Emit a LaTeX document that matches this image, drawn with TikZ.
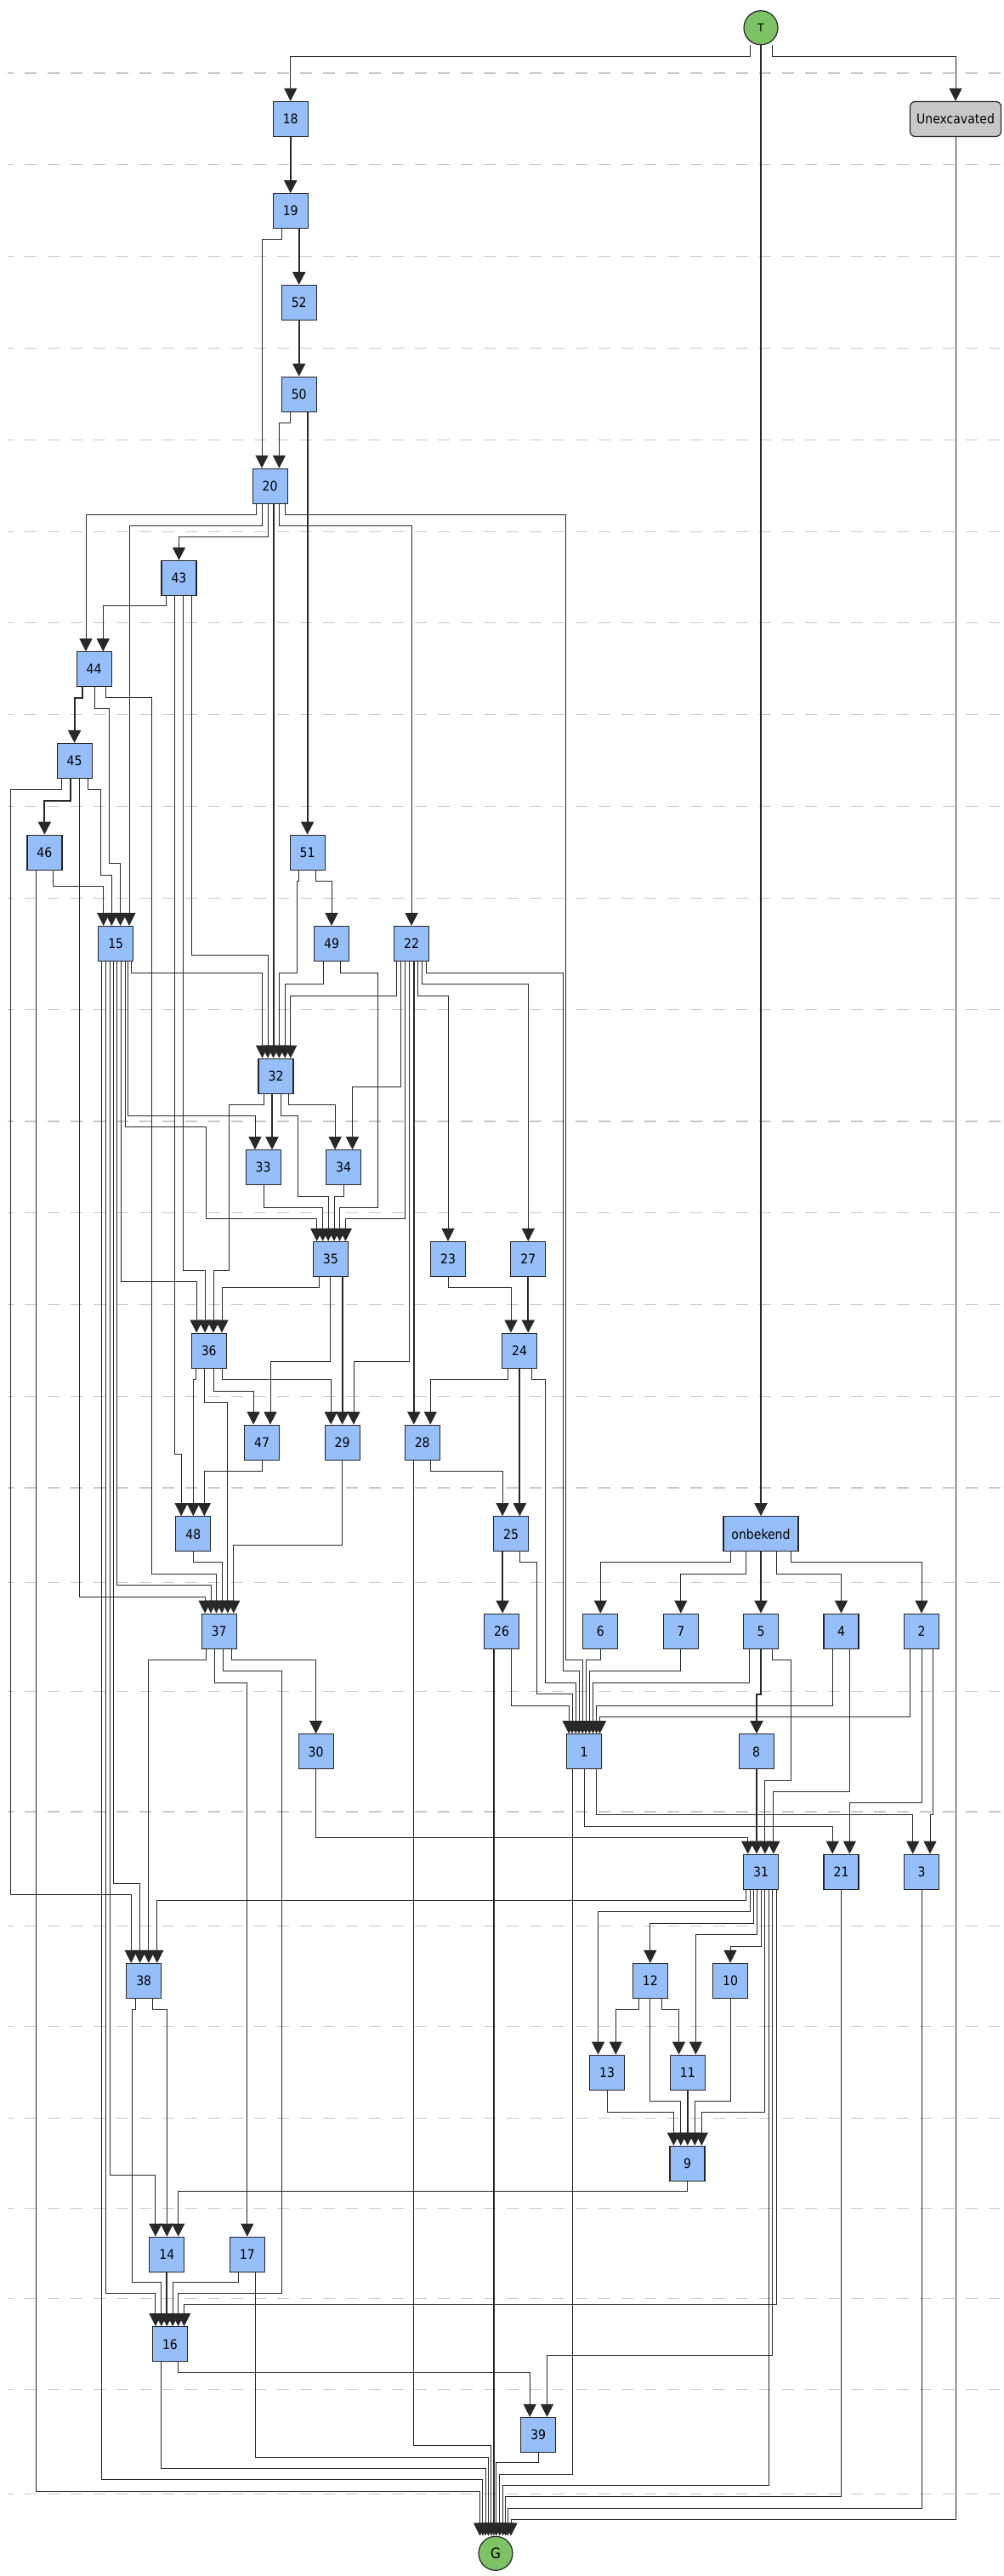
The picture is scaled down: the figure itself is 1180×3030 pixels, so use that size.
\documentclass[tikz,border=0pt]{standalone}
\usepackage{fontspec}
\setmainfont{DejaVu Sans Condensed}
\usetikzlibrary{arrows.meta,shapes.geometric}
\definecolor{boxblue}{RGB}{150,190,248}
\definecolor{tgreen}{RGB}{125,194,100}
\definecolor{ungray}{RGB}{200,200,200}
\definecolor{dashgray}{RGB}{200,200,200}
\definecolor{edgecol}{RGB}{40,40,40}
\newcommand\ed[5]{\draw[edge] (#1.south -| #2,0) #5 -| (#3.north -| #4,0);}
\newcommand\eb[5]{\draw[edge,line width=1pt] (#1.south -| #2,0) #5 -| (#3.north -| #4,0);}
\begin{document}
\begin{tikzpicture}[x=0.5pt,y=-0.5pt,
  box/.style={draw=black!85,fill=boxblue,line width=0.6pt,minimum width=20.5pt,minimum height=20.5pt,inner sep=0pt,font=\fontsize{7.8}{9}\selectfont},
  wbox/.style={box,minimum width=44pt},
  ubox/.style={box,fill=ungray,rounded corners=3pt,minimum width=53.5pt},
  term/.style={circle,draw=black!85,fill=tgreen,line width=0.6pt,minimum size=20pt,inner sep=0pt},
  edge/.style={draw=edgecol,line width=0.5pt,-{Triangle[width=7.5pt,length=7.5pt]}},
  rowline/.style={draw=dashgray,line width=0.7pt,dash pattern=on 6.7pt off 6.8pt,dash phase=3.35pt}]
\useasboundingbox[fill=white] (0,0) rectangle (1180,3030);
\foreach \yy in {86,193.7,301.7,409.3,517.3,625.3,732.7,840.7,948.7,1056.7,1187.7,1319,1426.7,1534.7,1642.7,1750,1861.3,1989.3,2131,2265.7,2383.7,2491.3,2597.7,2703.7,2810.3,2933.3}
  \draw[rowline] (9,\yy) -- (1180,\yy);
% nodes
\node[term,font=\fontsize{6.5}{8}\selectfont] (T) at (895,32.7) {T};
\node[box] (n18) at (341.7,140) {18};
\node[ubox] (U) at (1124,140) {Unexcavated};
\node[box] (n19) at (341.7,248.3) {19};
\node[box] (n52) at (351.7,356) {52};
\node[box] (n50) at (351.7,463.7) {50};
\node[box] (n20) at (317.6,571.7) {20};
\node[box] (n43) at (210.5,680) {43};
\node[box] (n44) at (110.6,787.3) {44};
\node[box] (n45) at (87.6,895) {45};
\node[box] (n46) at (52.4,1002.7) {46};
\node[box] (n51) at (361.6,1002.7) {51};
\node[box] (n15) at (136.2,1110) {15};
\node[box] (n49) at (390,1110) {49};
\node[box] (n22) at (484.1,1110) {22};
\node[box] (n32) at (324.5,1265.7) {32};
\node[box] (n33) at (309.6,1373.3) {33};
\node[box] (n34) at (404.1,1373.3) {34};
\node[box] (n35) at (388.8,1481) {35};
\node[box] (n23) at (527,1481) {23};
\node[box] (n27) at (621.3,1481) {27};
\node[box] (n36) at (245.7,1588.7) {36};
\node[box] (n24) at (611,1588.7) {24};
\node[box] (n47) at (308,1696.7) {47};
\node[box] (n29) at (402.6,1696.7) {29};
\node[box] (n28) at (496.7,1696.7) {28};
\node[box] (n48) at (227.3,1804.3) {48};
\node[box] (n25) at (601,1804.3) {25};
\node[wbox] (onb) at (895,1804.3) {onbekend};
\node[box] (n37) at (257.6,1918.7) {37};
\node[box] (n26) at (590,1918.7) {26};
\node[box] (n6) at (706.3,1918.7) {6};
\node[box] (n7) at (800.8,1918.7) {7};
\node[box] (n5) at (895,1918.7) {5};
\node[box] (n4) at (989.5,1918.7) {4};
\node[box] (n2) at (1084,1918.7) {2};
\node[box] (n30) at (371.6,2060.3) {30};
\node[box] (n1) at (687.2,2060.3) {1};
\node[box] (n8) at (889.6,2060.3) {8};
\node[box] (n31) at (895,2201.7) {31};
\node[box] (n21) at (989.5,2201.7) {21};
\node[box] (n3) at (1084,2201.7) {3};
\node[box] (n38) at (169.2,2330) {38};
\node[box] (n12) at (764.8,2330) {12};
\node[box] (n10) at (859,2330) {10};
\node[box] (n13) at (714,2437.7) {13};
\node[box] (n11) at (808.9,2437.7) {11};
\node[box] (n9) at (808.5,2544.7) {9};
\node[box] (n14) at (196.3,2651.7) {14};
\node[box] (n17) at (290.8,2651.7) {17};
\node[box] (n16) at (200,2757.3) {16};
\node[box] (n39) at (633.2,2864) {39};
\node[term,font=\fontsize{8.5}{10}\selectfont] (G) at (583,3003.3) {G};
% edges
\ed{T}{882}{n18}{341.7}{|- (341.7,66)}
\ed{T}{908.4}{U}{1124}{|- (1124,66)}
\eb{T}{895}{onb}{895}{}
\eb{n18}{341.7}{n19}{341.7}{}
\eb{n19}{351.7}{n52}{351.7}{}
\ed{n19}{331.8}{n20}{308}{|- (308,281.7)}
\eb{n52}{351.7}{n50}{351.7}{}
\ed{n50}{341.7}{n20}{328.4}{|- (328.4,497)}
\eb{n50}{361.6}{n51}{361.6}{}
\ed{U}{1124}{G}{601}{|- (601,2963.3)}
% 20
\ed{n20}{301.6}{n44}{101}{|- (101,605)}
\ed{n20}{308}{n15}{152}{|- (152,618.3)}
\ed{n20}{315}{n43}{210.5}{|- (210.5,631.7)}
\eb{n20}{321.5}{n32}{321.5}{}
\ed{n20}{328.4}{n22}{484.1}{|- (484.1,618.3)}
\ed{n20}{335.2}{n1}{685.2}{|- (665.3,605) |- (685.2,1952.7)}
% 43
\ed{n43}{195.2}{n44}{121.3}{|- (121.3,712.3)}
\ed{n43}{205.9}{n48}{213.2}{|- (213.2,1710)}
\ed{n43}{215.5}{n36}{241.1}{|- (241.1,1494.3)}
\ed{n43}{225.4}{n32}{315}{|- (315,1123.7)}
% 44
\eb{n44}{97.2}{n45}{87.6}{|- (87.6,820.7)}
\ed{n44}{111}{n15}{141.6}{|- (128.6,833.7) |- (141.6,1015.7)}
\ed{n44}{124.4}{n37}{254.5}{|- (178.3,820.7) |- (254.5,1851)}
% 45
\ed{n45}{72.7}{n38}{154.2}{|- (12.6,928.3) |- (154.2,2228.7)}
\eb{n45}{83}{n46}{52.4}{|- (52.4,941.7)}
\ed{n45}{93}{n37}{241.1}{|- (241.1,1878.3)}
\ed{n45}{103}{n15}{131.3}{|- (118.3,928.3) |- (131.3,1029.3)}
% 46
\ed{n46}{42.1}{G}{564.5}{|- (564.5,2930)}
\ed{n46}{62.8}{n15}{121.7}{|- (121.7,1042.7)}
% 15
\ed{n15}{119.8}{G}{567.9}{|- (567.9,2916.7)}
\ed{n15}{124.4}{n16}{182.9}{|- (182.9,2697.3)}
\ed{n15}{129}{n14}{182.9}{|- (182.9,2558)}
\ed{n15}{133.6}{n38}{164.6}{|- (164.6,2215)}
\ed{n15}{137.8}{n37}{248}{|- (248,1864.7)}
\ed{n15}{142.4}{n36}{231.1}{|- (231.1,1507.7)}
\ed{n15}{147.3}{n35}{372.7}{|- (242.2,1325.7) |- (372.7,1433.3)}
\ed{n15}{150.5}{n33}{300}{|- (300,1312.7)}
\ed{n15}{154.2}{n32}{308.5}{|- (308.5,1144)}
% 51, 49
\ed{n51}{351.7}{n32}{328.4}{|- (349.4,1036) |- (328.4,1144)}
\ed{n51}{371.6}{n49}{390}{|- (390,1036)}
\ed{n49}{380}{n32}{335.2}{|- (335.2,1157.7)}
\ed{n49}{400}{n35}{399.5}{|- (444.7,1144) |- (399.5,1420.3)}
% 22
\ed{n22}{466.1}{n32}{341.8}{|- (341.8,1171)}
\ed{n22}{471.1}{n34}{414.5}{|- (414.5,1278.3)}
\ed{n22}{476.5}{n35}{406.4}{|- (406.4,1433.3)}
\ed{n22}{481.4}{n29}{416}{|- (416,1601.7)}
\eb{n22}{486.8}{n28}{486.8}{}
\ed{n22}{491.8}{n23}{527}{|- (527,1171)}
\ed{n22}{496.7}{n27}{621.3}{|- (621.3,1157.7)}
\ed{n22}{501.7}{n1}{681}{|- (662.3,1144) |- (681,1965.7)}
% 32, 33, 34
\ed{n32}{310}{n36}{251}{|- (269.4,1299) |- (251,1494.3)}
\eb{n32}{320}{n33}{320}{}
\ed{n32}{330.6}{n35}{386.1}{|- (350.5,1312.7) |- (386.1,1407)}
\ed{n32}{339.8}{n34}{394.2}{|- (394.2,1299)}
\ed{n33}{310}{n35}{379.6}{|- (379.6,1420.3)}
\ed{n34}{404.1}{n35}{393}{|- (393,1407)}
% 35, 23, 27
\ed{n35}{375.8}{n36}{261}{|- (261,1514.3)}
\ed{n35}{388.8}{n47}{318}{|- (318,1601.7)}
\eb{n35}{402.6}{n29}{402.6}{}
\ed{n23}{527}{n24}{601}{|- (601,1514.3)}
\eb{n27}{621.3}{n24}{621.3}{}
% 24
\ed{n24}{597.6}{n28}{506.3}{|- (506.3,1622.3)}
\eb{n24}{611.8}{n25}{611.4}{}
\ed{n24}{625.2}{n1}{677.2}{|- (641.2,1622.3) |- (677.2,1979)}
% 36
\ed{n36}{230.8}{n48}{227.3}{|- (227.3,1622.3)}
\ed{n36}{240.7}{n37}{267.9}{|- (267.9,1649.7)}
\ed{n36}{251}{n47}{298.1}{|- (298.1,1636)}
\ed{n36}{261}{n29}{389.2}{|- (389.2,1622.3)}
% 47, 29, 28, 48, 25
\ed{n47}{308}{n48}{240.3}{|- (240.3,1730)}
\ed{n29}{402.6}{n37}{274.8}{|- (274.8,1817.7)}
\ed{n28}{486.8}{G}{577.9}{|- (577.9,2876.7)}
\ed{n28}{506.3}{n25}{591.1}{|- (591.1,1730)}
\ed{n48}{227.3}{n37}{261}{|- (261,1837.7)}
\eb{n25}{591.1}{n26}{591.1}{}
\ed{n25}{611.4}{n1}{673}{|- (631.7,1837.7) |- (673,1992.7)}
% onbekend
\ed{onb}{859.7}{n6}{706.3}{|- (706.3,1837.7)}
\ed{onb}{877.4}{n7}{800.8}{|- (800.8,1851)}
\eb{onb}{895}{n5}{895}{}
\ed{onb}{913}{n4}{989.5}{|- (989.5,1851)}
\ed{onb}{930.2}{n2}{1084}{|- (1084,1837.7)}
% 37
\ed{n37}{242.2}{n38}{174.9}{|- (174.9,1952.3)}
\ed{n37}{252.6}{n17}{290.8}{|- (290.8,1979)}
\ed{n37}{262.9}{n16}{209.7}{|- (331.4,1965.7) |- (209.7,2697.3)}
\ed{n37}{272.9}{n30}{371.6}{|- (371.6,1952.3)}
% row 17 right
\eb{n26}{581}{G}{581}{}
\ed{n26}{601}{n1}{669.2}{|- (669.2,2006)}
\ed{n6}{706.3}{n1}{689.1}{|- (689.1,1952.7)}
\ed{n7}{800.8}{n1}{693.3}{|- (693.3,1965.7)}
\ed{n5}{881.6}{n1}{697.5}{|- (697.5,1979)}
\eb{n5}{895}{n8}{890}{|- (890,1992.7)}
\ed{n5}{908.4}{n31}{899.9}{|- (930.6,1952.7) |- (899.9,2094)}
\ed{n4}{979.2}{n1}{701.7}{|- (701.7,2006)}
\ed{n4}{999.4}{n31}{909.9}{|- (909.9,2107.3)}
\ed{n2}{1070.6}{n1}{705.5}{|- (705.5,2019)}
\ed{n2}{1084}{n21}{999.4}{|- (999.4,2120.7)}
\ed{n2}{1097.4}{n3}{1094}{|- (1094,2134.3)}
% 30, 1, 8
\ed{n30}{371.6}{n31}{879.6}{|- (879.6,2161.7)}
\ed{n1}{673.8}{G}{587.7}{|- (587.7,2910)}
\ed{n1}{687.2}{n21}{979.2}{|- (979.2,2148)}
\ed{n1}{701}{n3}{1073.7}{|- (1073.7,2134.3)}
\eb{n8}{890}{n31}{890}{}
% 31
\ed{n31}{877.4}{n38}{184.8}{|- (184.8,2235)}
\ed{n31}{882}{n13}{703.6}{|- (703.6,2248.3)}
\ed{n31}{886.2}{n12}{764.8}{|- (764.8,2262)}
\ed{n31}{890.7}{n11}{818.4}{|- (818.4,2275.7)}
\ed{n31}{895.3}{n10}{859}{|- (859,2289.3)}
\ed{n31}{899.9}{n9}{825.3}{|- (825.3,2484.3)}
\ed{n31}{904.5}{G}{591.5}{|- (591.5,2923.3)}
\ed{n31}{908.7}{n39}{643.5}{|- (643.5,2770.7)}
\ed{n31}{913.3}{n16}{216.6}{|- (216.6,2710.7)}
\ed{n21}{989.9}{G}{594.5}{|- (594.5,2936.7)}
\ed{n3}{1084}{G}{597.2}{|- (597.2,2950)}
% 38
\ed{n38}{159.2}{n16}{189.8}{|- (155.8,2363) |- (189.8,2684)}
\ed{n38}{179.5}{n14}{196.3}{|- (196.3,2363)}
% 12, 10, 13, 11, 9
\ed{n12}{751}{n13}{724.3}{|- (724.3,2363)}
\ed{n12}{764.8}{n9}{800.8}{|- (800.8,2471)}
\ed{n12}{778.2}{n11}{798.5}{|- (798.5,2363)}
\ed{n10}{859}{n9}{817.3}{|- (817.3,2471)}
\ed{n13}{714}{n9}{792.4}{|- (792.4,2484.3)}
\eb{n11}{808.9}{n9}{808.8}{}
\ed{n9}{808.8}{n14}{209.7}{|- (209.7,2577.7)}
% 14, 17, 16, 39
\eb{n14}{196.3}{n16}{196.3}{}
\ed{n17}{280.5}{n16}{203.2}{|- (203.2,2684)}
\ed{n17}{300.8}{G}{574.4}{|- (574.4,2890)}
\ed{n16}{189.8}{G}{571}{|- (571,2903.3)}
\ed{n16}{209.7}{n39}{623.2}{|- (623.2,2790.7)}
\ed{n39}{633.2}{G}{583.8}{|- (583.8,2896.7)}
\end{tikzpicture}
\end{document}
